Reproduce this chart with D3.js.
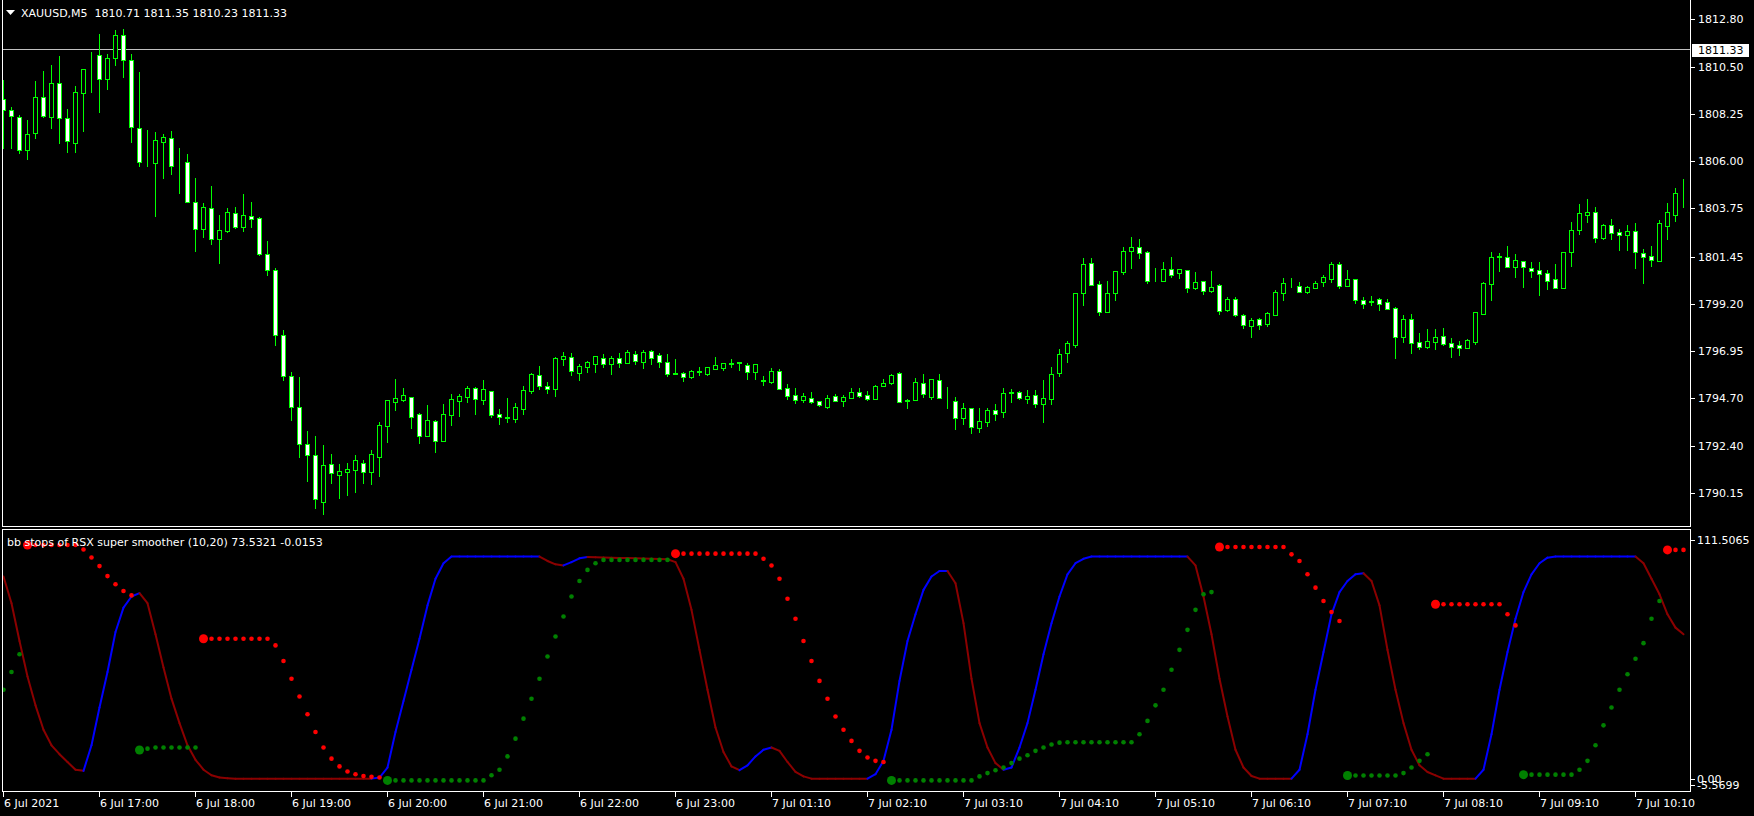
<!DOCTYPE html>
<html><head><meta charset="utf-8">
<script src="https://cdn.jsdelivr.net/npm/d3@7"></script>
<style>html,body{margin:0;padding:0;background:#000;overflow:hidden}svg{display:block}</style>
</head><body><svg id="c" width="1754" height="816"></svg>
<script>
const symbolTitle = "XAUUSD,M5  1810.71 1811.35 1810.23 1811.33";
const indicatorTitle = "bb stops of RSX super smoother (10,20) 73.5321 -0.0153";
const bidPrice = 1811.33;
const priceTickLabels = ["1812.80","1810.50","1808.25","1806.00","1803.75","1801.45","1799.20","1796.95","1794.70","1792.40","1790.15"];
const indTickLabels = ["111.5065","0.00","-5.5699"];
const timeLabels = ["6 Jul 2021","6 Jul 17:00","6 Jul 18:00","6 Jul 19:00","6 Jul 20:00","6 Jul 21:00","6 Jul 22:00","6 Jul 23:00","7 Jul 01:10","7 Jul 02:10","7 Jul 03:10","7 Jul 04:10","7 Jul 05:10","7 Jul 06:10","7 Jul 07:10","7 Jul 08:10","7 Jul 09:10","7 Jul 10:10"];
const barsPerLabel = 12;

const open = [1808.96,1808.44,1808.13,1806.53,1807.34,1809.09,1808.13,1809.73,1808.09,1806.89,
1809.25,1810.36,1811.06,1809.92,1810.92,1812.02,1810.83,1807.58,1805.98,1805.90,
1806.94,1807.10,1805.90,1805.95,1804.07,1802.78,1803.75,1802.30,1802.69,1803.55,
1802.88,1803.40,1803.28,1801.57,1800.81,1797.70,1795.76,1794.28,1792.48,1791.95,
1789.74,1791.52,1791.03,1791.17,1791.27,1791.57,1791.17,1791.89,1793.37,1794.52,
1794.61,1794.72,1793.91,1792.89,1793.59,1792.65,1793.90,1794.57,1794.74,1795.15,
1794.61,1795.01,1793.91,1793.72,1793.69,1794.18,1795.04,1795.78,1795.25,1795.11,
1796.56,1796.64,1795.90,1796.19,1796.33,1796.59,1796.33,1796.59,1796.38,1796.78,
1796.43,1796.94,1796.73,1796.40,1795.87,1795.89,1795.71,1795.93,1795.82,1796.09,
1796.11,1796.33,1796.36,1796.25,1795.95,1795.50,1795.46,1795.98,1795.15,1794.82,
1794.60,1794.68,1794.55,1794.26,1794.79,1794.57,1794.71,1794.96,1794.82,1794.66,
1795.28,1795.41,1795.87,1794.55,1794.60,1795.39,1794.76,1795.54,1794.63,1794.53,
1793.75,1794.20,1793.27,1793.56,1794.10,1794.04,1794.93,1794.98,1794.64,1794.82,
1794.42,1794.65,1795.89,1796.86,1797.24,1799.69,1801.13,1800.12,1798.82,1799.72,
1800.71,1801.73,1801.89,1801.67,1800.31,1800.30,1800.84,1800.65,1800.79,1799.95,
1800.28,1799.82,1800.09,1798.90,1799.42,1798.64,1798.15,1798.45,1798.24,1798.67,
1799.72,1800.11,1800.03,1799.74,1799.96,1800.24,1800.38,1801.10,1800.06,1800.36,
1799.36,1799.30,1799.41,1799.26,1798.98,1797.59,1798.45,1797.35,1797.14,1797.38,
1797.64,1797.30,1797.21,1797.10,1797.38,1798.72,1800.15,1801.43,1801.41,1800.97,
1801.22,1800.90,1800.79,1800.65,1800.36,1799.96,1801.65,1802.73,1803.45,1803.56,
1802.35,1802.94,1802.61,1802.50,1802.65,1801.60,1801.46,1801.25,1802.93,1803.45,1804.52];
const high = [1809.89,1808.58,1808.21,1807.97,1809.84,1810.32,1810.60,1811.03,1808.50,1809.60,
1810.40,1811.22,1812.08,1811.13,1812.27,1812.32,1811.13,1810.28,1807.50,1807.40,
1807.31,1807.45,1806.64,1806.35,1805.20,1804.02,1804.84,1803.44,1803.77,1803.80,
1804.44,1804.06,1803.36,1802.19,1800.90,1797.94,1795.92,1795.70,1793.12,1792.88,
1792.45,1792.02,1791.54,1791.59,1791.97,1791.73,1792.21,1793.55,1794.60,1795.60,
1795.15,1794.76,1793.96,1794.36,1793.64,1794.41,1794.88,1794.90,1795.27,1795.20,
1795.55,1795.04,1794.17,1794.68,1794.44,1795.27,1795.90,1796.22,1795.46,1796.65,
1796.87,1796.83,1796.32,1796.48,1796.70,1796.78,1796.70,1796.84,1796.99,1796.94,
1796.99,1796.99,1796.86,1796.80,1796.54,1795.95,1796.03,1796.16,1796.17,1796.65,
1796.38,1796.54,1796.41,1796.35,1796.31,1795.74,1796.11,1796.06,1795.35,1795.16,
1794.92,1794.96,1794.56,1794.84,1794.88,1794.84,1795.17,1795.15,1795.01,1795.31,
1795.60,1795.82,1795.92,1794.64,1795.63,1795.82,1795.59,1795.84,1795.20,1794.72,
1794.45,1794.21,1794.20,1794.20,1794.41,1795.15,1795.12,1795.03,1795.08,1795.06,
1795.55,1796.17,1797.02,1797.42,1799.73,1801.40,1801.40,1800.28,1800.28,1800.75,
1801.91,1802.39,1802.29,1801.72,1800.90,1801.19,1801.43,1800.85,1800.80,1800.71,
1800.29,1800.76,1800.14,1799.53,1799.50,1798.70,1798.52,1798.53,1798.80,1799.84,
1800.41,1800.41,1800.24,1800.04,1800.30,1800.57,1801.17,1801.17,1800.81,1800.39,
1799.50,1799.55,1799.47,1799.41,1799.06,1798.66,1798.71,1797.80,1797.99,1797.99,
1798.04,1797.56,1797.42,1797.50,1798.80,1800.23,1801.67,1801.60,1801.95,1801.57,
1801.23,1801.19,1801.19,1800.81,1801.09,1801.66,1803.10,1803.96,1804.18,1803.82,
1803.01,1803.24,1802.75,1802.96,1803.05,1801.80,1801.95,1803.20,1804.02,1804.73,1805.16];
const low = [1806.62,1806.62,1806.38,1806.10,1807.10,1808.13,1807.58,1806.86,1806.43,1806.46,
1807.47,1809.33,1808.37,1809.46,1810.60,1810.05,1806.94,1805.79,1805.79,1803.40,
1805.22,1805.39,1804.47,1804.05,1801.73,1802.40,1802.03,1801.13,1802.62,1802.81,
1802.69,1802.88,1801.52,1800.57,1797.22,1795.55,1793.64,1791.89,1790.70,1789.45,
1789.13,1790.62,1789.90,1790.04,1790.22,1790.65,1790.57,1790.98,1792.61,1794.12,
1794.55,1793.24,1792.56,1792.87,1792.13,1792.63,1793.40,1793.85,1794.50,1793.94,
1794.42,1793.79,1793.47,1793.56,1793.56,1793.94,1794.95,1795.12,1794.95,1794.80,
1796.27,1795.79,1795.55,1795.95,1795.95,1796.19,1795.84,1796.19,1796.35,1796.32,
1796.14,1796.33,1796.19,1795.76,1795.82,1795.52,1795.63,1795.79,1795.81,1796.08,
1796.03,1796.19,1796.03,1795.62,1795.62,1795.31,1795.43,1795.13,1794.63,1794.44,
1794.52,1794.47,1794.33,1794.21,1794.55,1794.31,1794.70,1794.76,1794.60,1794.65,
1795.27,1795.36,1794.51,1794.23,1794.58,1794.76,1794.64,1794.67,1794.23,1793.23,
1793.45,1793.00,1793.07,1793.37,1793.64,1793.80,1794.52,1794.66,1794.47,1794.28,
1793.56,1794.41,1795.76,1796.41,1797.13,1799.14,1800.07,1798.66,1798.81,1799.38,
1800.62,1800.92,1801.40,1800.20,1800.27,1800.29,1800.49,1800.44,1799.77,1799.90,
1799.68,1799.77,1798.72,1798.85,1798.63,1798.05,1797.62,1797.99,1798.15,1798.66,
1799.38,1800.00,1799.74,1799.72,1799.93,1800.04,1800.25,1799.93,1800.05,1799.25,
1799.01,1799.14,1798.90,1798.95,1796.62,1797.35,1796.86,1797.05,1797.06,1797.05,
1797.21,1796.63,1796.76,1797.09,1797.29,1798.71,1799.39,1800.78,1800.96,1800.49,
1800.01,1800.49,1799.63,1799.92,1799.93,1799.93,1801.00,1802.53,1803.10,1802.16,
1802.27,1802.30,1801.76,1801.76,1800.92,1800.20,1801.00,1801.24,1802.30,1803.15,1803.82];
const close = [1808.45,1808.15,1806.53,1807.29,1809.09,1808.15,1809.73,1808.05,1806.96,1809.30,
1810.40,1810.38,1809.92,1810.92,1812.04,1810.83,1807.66,1805.98,1805.99,1807.02,
1807.16,1805.79,1805.94,1804.07,1802.78,1803.80,1802.30,1802.70,1803.56,1802.88,
1803.42,1803.26,1801.57,1800.81,1797.70,1795.74,1794.28,1792.48,1791.95,1789.85,
1791.48,1791.09,1791.19,1791.30,1791.73,1791.14,1792.00,1793.40,1794.58,1794.68,
1794.82,1793.80,1792.85,1793.63,1792.65,1793.91,1794.63,1794.77,1795.15,1794.66,
1795.11,1793.88,1793.80,1793.77,1794.25,1795.06,1795.84,1795.28,1795.11,1796.59,
1796.68,1796.00,1796.22,1796.41,1796.68,1796.33,1796.59,1796.38,1796.87,1796.48,
1796.87,1796.62,1796.43,1795.86,1795.84,1795.71,1795.98,1795.97,1796.16,1796.25,
1796.35,1796.37,1796.40,1795.95,1796.30,1795.54,1795.98,1795.14,1794.80,1794.60,
1794.77,1794.49,1794.34,1794.68,1794.57,1794.74,1794.98,1794.80,1794.66,1795.27,
1795.41,1795.78,1794.52,1794.58,1795.44,1794.87,1795.58,1794.68,1794.66,1793.75,
1794.20,1793.29,1793.58,1794.10,1793.94,1794.92,1794.96,1794.71,1794.77,1794.42,
1794.68,1795.82,1796.78,1797.32,1799.69,1801.08,1800.08,1798.82,1799.69,1800.74,
1801.70,1801.89,1801.60,1800.28,1800.35,1800.84,1800.59,1800.84,1799.96,1800.22,
1799.82,1799.98,1798.87,1799.42,1798.67,1798.20,1798.42,1798.20,1798.74,1799.74,
1800.17,1800.08,1799.77,1799.98,1800.19,1800.47,1801.10,1800.06,1800.36,1799.36,
1799.20,1799.33,1799.20,1798.96,1797.59,1798.45,1797.30,1797.14,1797.42,1797.59,
1797.29,1797.14,1797.10,1797.45,1798.79,1800.19,1801.41,1801.46,1800.97,1801.27,
1800.94,1800.78,1800.63,1800.30,1799.96,1801.65,1802.70,1803.52,1803.58,1802.35,
1802.94,1802.59,1802.50,1802.67,1801.68,1801.44,1801.30,1803.04,1803.56,1804.47,1804.55];

const rsx = [91,79,62,46,33,22,15,11,7.5,4,
3.5,15,32,48,66,77,82,83.5,79,65,
50,36,25,15,8.5,4,1.5,0.5,0.2,0,
0,0,0,0,0,0,0,0,0,0,
0,0,0,0,0,0,0,0.5,5,21,
35,49,63,78,90,97,100,100,100,100,
100,100,100,100,100,100,100,100,98,96.5,
96,97.5,99.2,99.8,99.7,99.6,99.5,99.4,99.3,99.2,
99.1,99,98.9,98.8,97.5,90,76,58,40,23,
12,5.5,3.8,6,10,13,14,12.5,7.5,3,
1,0,0,0,0,0,0,0,0,2,
8,22,44,62,74,85,91,93.5,93.5,88,
70,45,25,14,7,4,5,14,25,40,
56,70,82,92,97,99,100,100,100,100,
100,100,100,100,100,100,100,100,100,96,
82,65,45,28,13,5,1.2,0,0,0,
0,0,4,20,40,57,74,84,89,92,
92.5,89,78,58,40,25,13,6,3,1.5,
0,0,0,0,0,4,20,40,57,72,
84,92,97,99.5,100,100,100,100,100,100,
100,100,100,100,100,97,90,83,74,68,65];

const N = null;
const upperStop = [N,N,N,105.2,105.2,105.2,105.2,105.2,105.2,105.2,
103.2,99.6,95.7,91.2,87.5,84.5,82.5,N,N,N,
N,N,N,N,N,63,63,63,63,63,
63,63,63,63,60,53,45,37,29,21,
14,9,5.5,3.2,2,1.2,0.8,0.5,N,N,
N,N,N,N,N,N,N,N,N,N,
N,N,N,N,N,N,N,N,N,N,
N,N,N,N,N,N,N,N,N,N,
N,N,N,N,101.3,101.3,101.3,101.3,101.3,101.3,
101.3,101.3,101.3,101.3,101.3,99,96,90,81,72,
62,53,44,36,28,22,17,12.5,9.5,8,
7.5,N,N,N,N,N,N,N,N,N,
N,N,N,N,N,N,N,N,N,N,
N,N,N,N,N,N,N,N,N,N,
N,N,N,N,N,N,N,N,N,N,
N,N,104.3,104.3,104.3,104.3,104.3,104.3,104.3,104.3,
104.3,101,98,92,86,80,75,71,N,N,
N,N,N,N,N,N,N,N,N,78.5,
78.5,78.5,78.5,78.5,78.5,78.5,78.5,78.5,74,69,
N,N,N,N,N,N,N,N,N,N,
N,N,N,N,N,N,N,N,103,103,103];
const lowerStop = [40,48,56,N,N,N,N,N,N,N,
N,N,N,N,N,N,N,12.9,13.5,14,
14,14,14,14,14,N,N,N,N,N,
N,N,N,N,N,N,N,N,N,N,
N,N,N,N,N,N,N,N,-0.8,-0.8,
-0.8,-0.8,-0.8,-0.8,-0.8,-0.8,-0.8,-0.8,-0.8,-0.8,
-0.8,1.5,4,10,18,27,36,45,55,64,
73,82,89,94,97,98.5,98.5,98.5,98.5,98.5,
98.5,98.5,98.5,98.5,N,N,N,N,N,N,
N,N,N,N,N,N,N,N,N,N,
N,N,N,N,N,N,N,N,N,N,
N,-0.8,-0.8,-0.8,-0.8,-0.8,-0.8,-0.8,-0.8,-0.8,
-0.8,-0.8,1,2.5,3.8,5,7,9,10.5,12.5,
14,15.4,16.2,16.4,16.4,16.4,16.4,16.4,16.4,16.4,
16.4,16.4,20,26,33,40,49,58,67,76,
83,84,N,N,N,N,N,N,N,N,
N,N,N,N,N,N,N,N,1.4,1.4,
1.4,1.4,1.4,1.4,1.4,2.5,5,8,11,N,
N,N,N,N,N,N,N,N,N,N,
1.8,1.8,1.8,1.8,1.8,1.8,1.8,4,8,15,
24,32,40,47,54,61,72,80,N,N,N];

// ---------- layout ----------
const svg = d3.select("#c");
const W = 1754, H = 816;
svg.append("rect").attr("width",W).attr("height",H).attr("fill","#000");
const font = "DejaVu Sans, Verdana, sans-serif";
const lime = "#00ff00";

const nBars = open.length;
const x = d3.scaleLinear().domain([0, 1]).range([3, 11]); // one bar = 8px
const px = i => Math.round(x(i));
const yP = d3.scaleLinear().domain([1790.15, 1812.80]).range([493, 19]);
const yI = d3.scaleLinear().domain([-5.5699, 111.5065]).range([791, 531]);

svg.append("clipPath").attr("id","mc").append("rect").attr("x",3).attr("y",1).attr("width",1687).attr("height",525);
svg.append("clipPath").attr("id","ic").append("rect").attr("x",3).attr("y",530).attr("width",1687).attr("height",261);

// ---------- main panel ----------
const gMain = svg.append("g").attr("clip-path","url(#mc)");
gMain.append("line").attr("x1",3).attr("x2",1690)
  .attr("y1",Math.round(yP(bidPrice))-0.5).attr("y2",Math.round(yP(bidPrice))-0.5)
  .attr("stroke","#c0c0c0").attr("stroke-width",1).attr("shape-rendering","crispEdges");

const candles = gMain.append("g").attr("shape-rendering","crispEdges");
for (let i = 0; i < nBars; i++) {
  const cx = px(i) + 0.5;
  const yh = Math.round(yP(high[i])), yl = Math.round(yP(low[i]));
  candles.append("line").attr("x1",cx).attr("x2",cx).attr("y1",yh).attr("y2",yl+1)
    .attr("stroke",lime).attr("stroke-width",1);
  const yo = Math.round(yP(open[i])), yc = Math.round(yP(close[i]));
  const top = Math.min(yo,yc), bot = Math.max(yo,yc);
  const bull = close[i] >= open[i];
  candles.append("rect").attr("x",cx-2).attr("y",top+0.5).attr("width",4).attr("height",Math.max(0,bot-top))
    .attr("fill", bull ? "#000" : "#fff").attr("stroke",lime).attr("stroke-width",1);
}

const borders = svg.append("g").attr("shape-rendering","crispEdges").attr("fill","none").attr("stroke","#fff").attr("stroke-width",1);
borders.append("path").attr("d","M2.5,0 V526.5 H1690.5 V0");
borders.append("rect").attr("x",2.5).attr("y",529.5).attr("width",1688).attr("height",262);

const ra = svg.append("g");
priceTickLabels.forEach(t => {
  const yy = Math.round(yP(+t));
  ra.append("line").attr("x1",1691).attr("x2",1695).attr("y1",yy+0.5).attr("y2",yy+0.5).attr("stroke","#fff").attr("shape-rendering","crispEdges");
  ra.append("text").attr("x",1698).attr("y",yy+4).attr("fill","#fff").attr("font-family",font).attr("font-size",11).text(t);
});
const by = Math.round(yP(bidPrice));
ra.append("rect").attr("x",1692).attr("y",by-6).attr("width",57).attr("height",13).attr("fill","#fff");
ra.append("text").attr("x",1698).attr("y",by+4).attr("fill","#000").attr("font-family",font).attr("font-size",11).text(bidPrice.toFixed(2));

svg.append("path").attr("d","M6,10 L15,10 L10.5,15 Z").attr("fill","#fff");
svg.append("text").attr("x",21).attr("y",17).attr("fill","#fff").attr("font-family",font).attr("font-size",11)
  .style("white-space","pre").text(symbolTitle);

// ---------- indicator panel ----------
const gInd = svg.append("g").attr("clip-path","url(#ic)");
let prevCol = "#8b0000";
for (let i = 1; i < nBars; i++) {
  let col = prevCol;
  if (rsx[i] > rsx[i-1]) col = "#0000ff";
  else if (rsx[i] < rsx[i-1]) col = "#8b0000";
  prevCol = col;
  gInd.append("line").attr("x1",x(i-1)+0.5).attr("y1",yI(rsx[i-1])).attr("x2",x(i)+0.5).attr("y2",yI(rsx[i]))
    .attr("stroke",col).attr("stroke-width",2).attr("stroke-linecap","round");
}
function dots(arr, col) {
  arr.forEach((v,i) => {
    if (v === null) return;
    const first = i > 0 && arr[i-1] === null;
    gInd.append("circle").attr("cx",x(i)+0.5).attr("cy",yI(v)).attr("r", first ? 4.5 : 2.3).attr("fill",col);
  });
}
dots(upperStop, "#ff0000");
dots(lowerStop, "#008000");

svg.append("text").attr("x",7).attr("y",546).attr("fill","#fff").attr("font-family",font).attr("font-size",11).text(indicatorTitle);

const iaPos = [540, Math.round(yI(0)), Math.round(yI(0))+6];
indTickLabels.forEach((t,k) => {
  const yy = iaPos[k];
  ra.append("line").attr("x1",1691).attr("x2",1695).attr("y1",yy+0.5).attr("y2",yy+0.5).attr("stroke","#fff").attr("shape-rendering","crispEdges");
  ra.append("text").attr("x",1697).attr("y",yy+4).attr("fill","#fff").attr("font-family",font).attr("font-size",11).text(t);
});

const ta = svg.append("g");
timeLabels.forEach((t,k) => {
  const xx = px(k*barsPerLabel);
  ta.append("line").attr("x1",xx+0.5).attr("x2",xx+0.5).attr("y1",792).attr("y2",797).attr("stroke","#fff").attr("shape-rendering","crispEdges");
  ta.append("text").attr("x",xx+1).attr("y",807).attr("fill","#fff").attr("font-family",font).attr("font-size",11).text(t);
});
</script>
</body></html>
